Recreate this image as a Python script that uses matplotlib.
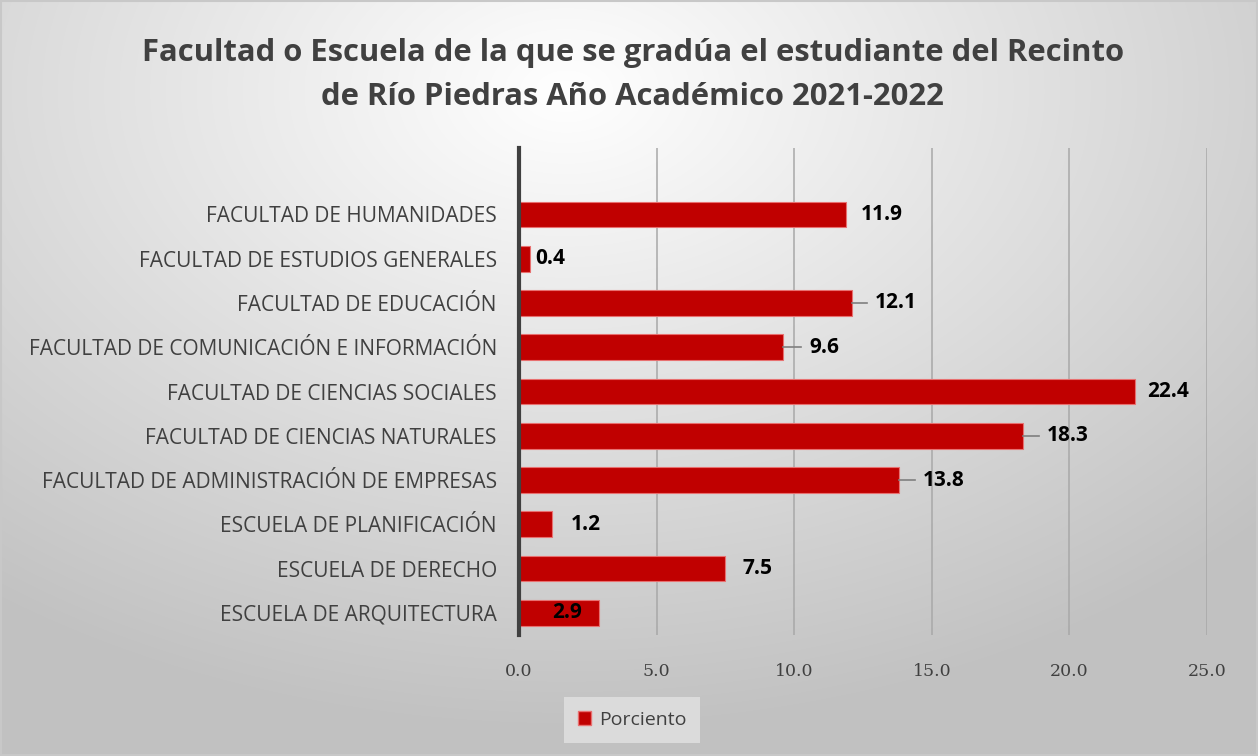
import numpy as np
import matplotlib
matplotlib.use("Agg")
import matplotlib.pyplot as plt
from matplotlib.patches import Rectangle

categories = [
    "ESCUELA DE ARQUITECTURA",
    "ESCUELA DE DERECHO",
    "ESCUELA DE PLANIFICACIÓN",
    "FACULTAD DE ADMINISTRACIÓN DE EMPRESAS",
    "FACULTAD DE CIENCIAS NATURALES",
    "FACULTAD DE CIENCIAS SOCIALES",
    "FACULTAD DE COMUNICACIÓN E INFORMACIÓN",
    "FACULTAD DE EDUCACIÓN",
    "FACULTAD DE ESTUDIOS GENERALES",
    "FACULTAD DE HUMANIDADES",
]
values = [2.9, 7.5, 1.2, 13.8, 18.3, 22.4, 9.6, 12.1, 0.4, 11.9]
series_name = "Porciento"
xticks = [0, 5, 10, 15, 20, 25]
title = "Facultad o Escuela de la que se gradúa el estudiante del Recinto\nde Río Piedras Año Académico 2021-2022"

# label placement (x offset from bar end in data units, leader line?)
label_offsets = [-1.17, 1.18, 1.22, 1.64, 1.65, 1.18, 1.48, 1.6, 0.75, 1.29]
leader = [False, False, False, True, True, False, True, True, False, False]

W, H = 1258, 756
fig = plt.figure(figsize=(W / 100, H / 100), dpi=100)

# radial gradient background
bg = fig.add_axes([0, 0, 1, 1], zorder=-10)
yy, xx = np.mgrid[0:H, 0:W]
cx, cy = W * 0.45, H * 0.12
r = np.sqrt(((xx - cx) / W) ** 2 + ((yy - cy) / H) ** 2 * 0.8)
v = np.clip(1.0 - 0.32 * r, 0.76, 1.0)
img = np.dstack([v, v, v])
bg.imshow(img, aspect="auto", extent=[0, 1, 0, 1], origin="upper")
bg.add_patch(Rectangle((0.001, 0.001), 0.998, 0.998, fill=False, edgecolor="#c8c8c8", lw=1.5,
                       transform=bg.transAxes))
bg.set_axis_off()

ax = fig.add_axes([519 / W, 1 - 635 / H, (1207 - 519) / W, (635 - 148) / H])
ax.patch.set_alpha(0)
ypos = np.arange(len(categories))
ax.barh(ypos, values, height=0.58, color="#C00000", edgecolor="#e87070", linewidth=0.8, zorder=3)
ax.set_xlim(0, 25)
ax.set_ylim(-0.5, 10.5)
ax.set_xticks(xticks)
ax.set_xticklabels([f"{t:.1f}" for t in xticks], family="DejaVu Serif", fontsize=12.5, color="#404040")
ax.set_yticks(ypos)
ax.set_yticklabels(categories, family="Open Sans", fontsize=15, color="#404040")
ax.tick_params(axis="both", length=0)
ax.tick_params(axis="x", pad=20)
ax.tick_params(axis="y", pad=16)
ax.grid(axis="x", color="#a8a8a8", lw=1.1, zorder=1)
for s in ["top", "right", "bottom"]:
    ax.spines[s].set_visible(False)
ax.spines["left"].set_color("#404040")
ax.spines["left"].set_linewidth(3)
ax.spines["left"].set_zorder(5)

px = 25 / (1207 - 519)  # data units per pixel
for y, v_, off, ld in zip(ypos, values, label_offsets, leader):
    xl = v_ + off
    s = f"{v_:.1f}"
    ax.text(xl, y, s, ha="center", va="center", fontsize=15, fontweight="bold",
            family="Open Sans", color="black", zorder=6)
    if ld:
        half = (21 if len(s) == 4 else 15) + 8
        ax.plot([v_, xl - half * px], [y, y], color="#7f7f7f", lw=1.2, zorder=4)

fig.text(0.503, 1 - 75 / H, title, ha="center", va="center", fontsize=22.3, fontweight="bold",
         family="Open Sans", color="#404040", linespacing=1.6)

leg = fig.legend([Rectangle((0, 0), 1, 1, facecolor="#C00000", edgecolor="#e87070")], [series_name],
                 loc="center", bbox_to_anchor=(632 / W, 1 - 720 / H), frameon=True, fancybox=False,
                 prop={"family": "Open Sans", "size": 14}, handlelength=0.7, handleheight=0.7,
                 handletextpad=0.4, borderpad=0.7)
leg.get_frame().set_facecolor("#e2e2e2")
leg.get_frame().set_edgecolor("none")
for t in leg.get_texts():
    t.set_color("#404040")

fig.savefig("out.png", dpi=100)
